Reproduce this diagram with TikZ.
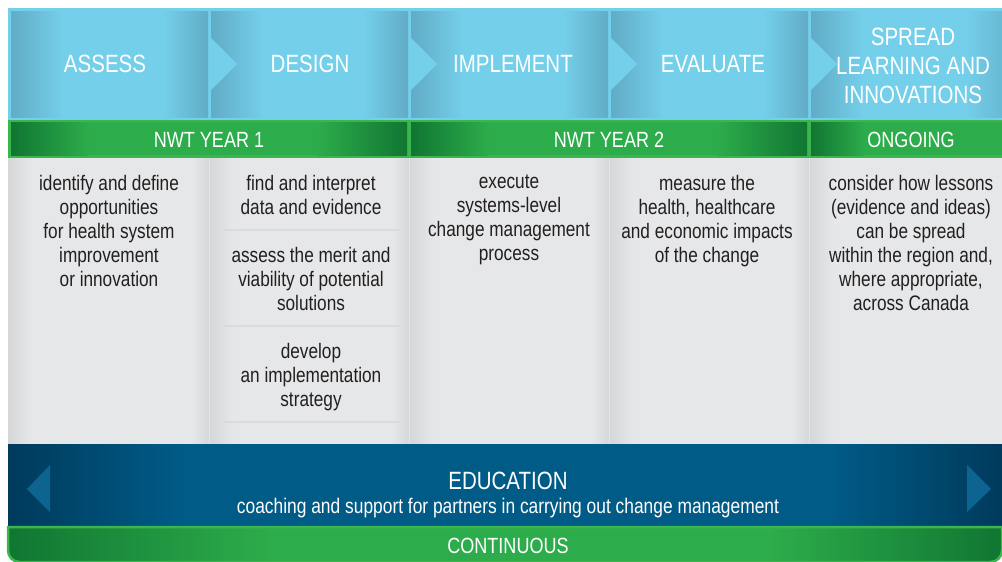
\documentclass[tikz,border=0pt]{standalone}
\usepackage{fontspec}
\setmainfont{Liberation Sans}[FakeStretch=0.82]
\definecolor{frameblue}{RGB}{116,207,234}
\definecolor{headdark}{RGB}{97,172,198}
\definecolor{greenlight}{RGB}{59,182,76}
\definecolor{greenmid}{RGB}{45,172,75}
\definecolor{greendark}{RGB}{16,118,50}
\definecolor{grayc}{RGB}{230,231,232}
\definecolor{graydark}{RGB}{214,215,217}
\definecolor{sepc}{RGB}{218,219,221}
\definecolor{bluec}{RGB}{0,91,135}
\definecolor{bluedark}{RGB}{0,58,92}
\definecolor{bluetri}{RGB}{14,100,145}
\definecolor{txt}{RGB}{35,31,32}
\begin{document}
\begin{tikzpicture}[x=1pt,y=-1pt,
  hdr/.style={font=\fontsize{25}{29}\selectfont, text=white, align=center, inner sep=0},
  bandlabel/.style={font=\fontsize{22}{24}\selectfont, text=white, inner sep=0},
  body/.style={font=\fontsize{21}{24}\selectfont, text=txt, align=center, inner sep=0, anchor=north, execute at begin node=\strut},
  sepline/.style={draw=sepc, line width=2pt}
]
\useasboundingbox (0,0) rectangle (1002,562);
% ---------- header frame ----------
\fill[frameblue] (8,8) rectangle (1002,120);
\foreach \a/\b in {11/208,211/408,411/608,611/808}{
  \fill[frameblue] (\a,11) rectangle (\b,117);
  \shade[left color=headdark, right color=frameblue] (\a,11) rectangle ({\a+52},117);
  \shade[left color=frameblue, right color=headdark] ({\b-45},11) rectangle (\b,117);
}
\fill[frameblue] (811,11) rectangle (1002,117);
\shade[left color=headdark, right color=frameblue] (811,11) rectangle (863,117);
\shade[left color=frameblue, right color=headdark!60!frameblue] (965,11) rectangle (1002,117);
\foreach \a in {211,411,611,811}{
  \fill[frameblue] (\a,38) -- ({\a+26},64) -- (\a,90) -- cycle;
}
\node[hdr] (assess) at (105,64) {ASSESS};
\node[hdr] (design) at (310,64) {DESIGN};
\node[hdr] (implement) at (513,64) {IMPLEMENT};
\node[hdr] (evaluate) at (713,64) {EVALUATE};
\node[hdr] (spread) at (913,66) {SPREAD\\LEARNING AND\\INNOVATIONS};
% ---------- green period row ----------
\fill[greenlight] (8,120) rectangle (1002,158);
\foreach \a/\b in {11/407,411/807}{
  \fill[greenmid] (\a,122) rectangle (\b,155);
  \shade[left color=greendark, right color=greenmid] (\a,122) rectangle ({\a+78},155);
  \shade[left color=greenmid, right color=greendark] ({\b-90},122) rectangle (\b,155);
}
\fill[greenmid] (811,122) rectangle (1002,155);
\shade[left color=greendark, right color=greenmid] (811,122) rectangle (865,155);
\node[bandlabel] (year1) at (209,139.5) {NWT YEAR 1};
\node[bandlabel] (year2) at (609,139.5) {NWT YEAR 2};
\node[bandlabel] (ongoing) at (911,139.5) {ONGOING};
% ---------- gray content panels ----------
\fill[grayc] (8,158) rectangle (1002,444);
\foreach \a/\b in {8/209,210/409,410/609,610/809}{
  \shade[left color=graydark, right color=grayc] (\a,158) rectangle ({\a+24},444);
  \shade[left color=grayc, right color=graydark] ({\b-16},158) rectangle (\b,444);
}
\shade[left color=graydark, right color=grayc] (810,158) rectangle (834,444);
\draw[sepline] (222,230) -- (400,230);
\draw[sepline] (222,326) -- (400,326);
\draw[sepline] (222,422) -- (400,422);
\node[body] (identify) at (109,175) {identify and define\\opportunities\\for health system\\improvement\\or innovation};
\node[body] (find) at (311,175) {find and interpret\\data and evidence};
\node[body] (merit) at (311,247) {assess the merit and\\viability of potential\\solutions};
\node[body] (develop) at (311,343) {develop\\an implementation\\strategy};
\node[body] (execute) at (509,175) {execute\\systems-level\\change management\\process};
\node[body] (measure) at (707,175) {measure the\\health, healthcare\\and economic impacts\\of the change};
\node[body] (consider) at (911,175) {consider how lessons\\(evidence and ideas)\\can be spread\\within the region and,\\where appropriate,\\across Canada};
% ---------- education band ----------
\fill[bluec] (8,444) rectangle (1002,527);
\shade[left color=bluedark, right color=bluec] (8,444) rectangle (180,527);
\shade[left color=bluec, right color=bluedark] (830,444) rectangle (1002,527);
\fill[bluetri] (27,489) -- (50,465) -- (50,512) -- cycle;
\fill[bluetri] (991,489) -- (967,465) -- (967,512) -- cycle;
\node[hdr] (education) at (508,481) {EDUCATION};
\node[font=\fontsize{21.2}{24}\selectfont, text=white, inner sep=0, anchor=base] (coaching) at (508,513) {coaching and support for partners in carrying out change management};
% ---------- continuous bar ----------
\begin{scope}
  \clip (8,527) -- (8,550) .. controls (8,557) and (13,562) .. (20,562) -- (990,562) .. controls (997,562) and (1002,557) .. (1002,550) -- (1002,527) -- cycle;
  \fill[greenmid] (8,527) rectangle (1002,562);
  \shade[left color=greendark, right color=greenmid] (8,527) rectangle (270,562);
  \shade[left color=greenmid, right color=greendark] (770,527) rectangle (1002,562);
\end{scope}
\draw[greenlight, line width=2.5pt] (8,527) -- (8,550) .. controls (8,557) and (13,562) .. (20,562) -- (990,562) .. controls (997,562) and (1002,557) .. (1002,550) -- (1002,527) -- cycle;
\node[bandlabel] (continuous) at (508,546) {CONTINUOUS};
\end{tikzpicture}
\end{document}
